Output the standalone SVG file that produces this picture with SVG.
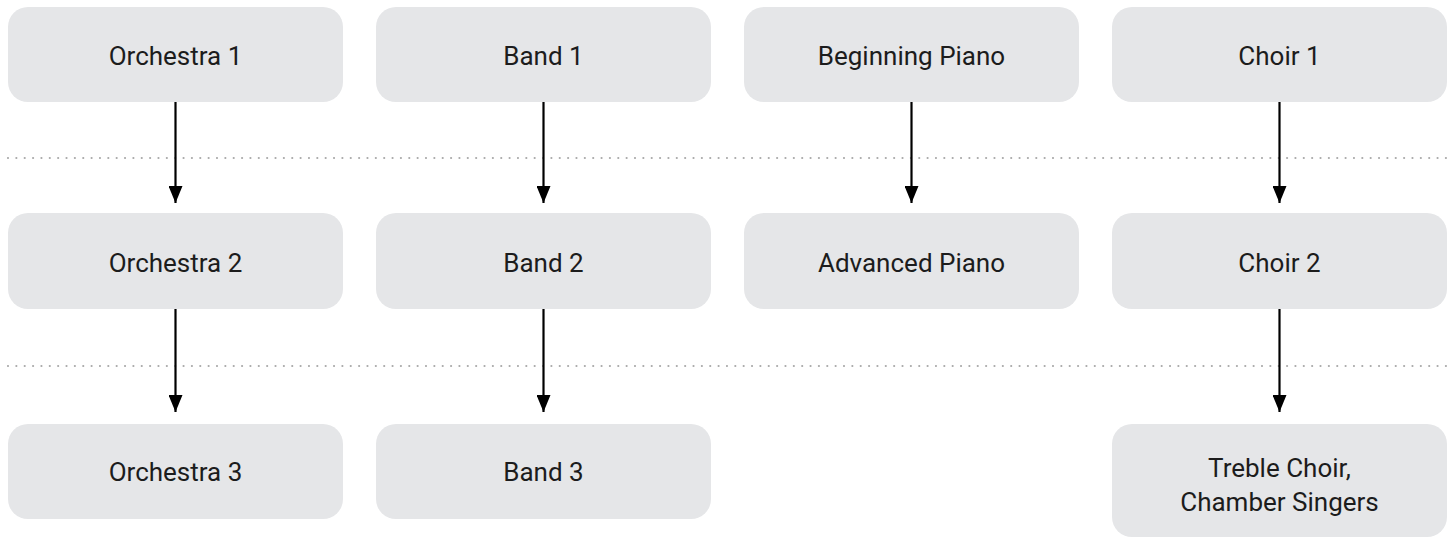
<svg xmlns="http://www.w3.org/2000/svg" width="1452" height="538" viewBox="0 0 1452 538">
<style>
.box{fill:#e5e6e8}
.lbl{font-family:Roboto,"Liberation Sans",sans-serif;font-size:26px;fill:#1c1c1c;text-anchor:middle}
.sep{stroke:#a8a8a8;stroke-width:2.2;stroke-dasharray:0 8.36;stroke-linecap:round;fill:none}
.conn{stroke:#000;stroke-width:2.2;fill:none}
</style>
<defs>
<marker id="ah" markerUnits="userSpaceOnUse" markerWidth="17" markerHeight="14" refX="17" refY="7" orient="auto" viewBox="0 0 17 14">
<path d="M0,0 L17,7 L0,14 Z" fill="#000"/>
</marker>
</defs>
<rect width="1452" height="538" fill="#fff"/>
<g id="separators">
<line class="sep" x1="8" y1="158" x2="1447" y2="158"/>
<line class="sep" x1="8" y1="366" x2="1447" y2="366"/>
</g>
<g id="n-orch1"><rect class="box" x="8" y="7" width="335" height="95" rx="20"/><text class="lbl" x="175.5" y="65">Orchestra 1</text></g>
<g id="n-band1"><rect class="box" x="376" y="7" width="335" height="95" rx="20"/><text class="lbl" x="543.5" y="65">Band 1</text></g>
<g id="n-piano1"><rect class="box" x="744" y="7" width="335" height="95" rx="20"/><text class="lbl" x="911.5" y="65">Beginning Piano</text></g>
<g id="n-choir1"><rect class="box" x="1112" y="7" width="335" height="95" rx="20"/><text class="lbl" x="1279.5" y="65">Choir 1</text></g>
<g id="n-orch2"><rect class="box" x="8" y="213" width="335" height="96" rx="20"/><text class="lbl" x="175.5" y="272">Orchestra 2</text></g>
<g id="n-band2"><rect class="box" x="376" y="213" width="335" height="96" rx="20"/><text class="lbl" x="543.5" y="272">Band 2</text></g>
<g id="n-piano2"><rect class="box" x="744" y="213" width="335" height="96" rx="20"/><text class="lbl" x="911.5" y="272">Advanced Piano</text></g>
<g id="n-choir2"><rect class="box" x="1112" y="213" width="335" height="96" rx="20"/><text class="lbl" x="1279.5" y="272">Choir 2</text></g>
<g id="n-orch3"><rect class="box" x="8" y="424" width="335" height="95" rx="20"/><text class="lbl" x="175.5" y="481">Orchestra 3</text></g>
<g id="n-band3"><rect class="box" x="376" y="424" width="335" height="95" rx="20"/><text class="lbl" x="543.5" y="481">Band 3</text></g>
<g id="n-treble"><rect class="box" x="1112" y="424" width="335" height="113" rx="20"/><text class="lbl" x="1279.5" y="477">Treble Choir,</text><text class="lbl" x="1279.5" y="511">Chamber Singers</text></g>
<g id="connectors">
<line class="conn" x1="175.5" y1="102" x2="175.5" y2="203" marker-end="url(#ah)"/>
<line class="conn" x1="543.5" y1="102" x2="543.5" y2="203" marker-end="url(#ah)"/>
<line class="conn" x1="911.5" y1="102" x2="911.5" y2="203" marker-end="url(#ah)"/>
<line class="conn" x1="1279.5" y1="102" x2="1279.5" y2="203" marker-end="url(#ah)"/>
<line class="conn" x1="175.5" y1="309" x2="175.5" y2="412" marker-end="url(#ah)"/>
<line class="conn" x1="543.5" y1="309" x2="543.5" y2="412" marker-end="url(#ah)"/>
<line class="conn" x1="1279.5" y1="309" x2="1279.5" y2="412" marker-end="url(#ah)"/>
</g>
</svg>
